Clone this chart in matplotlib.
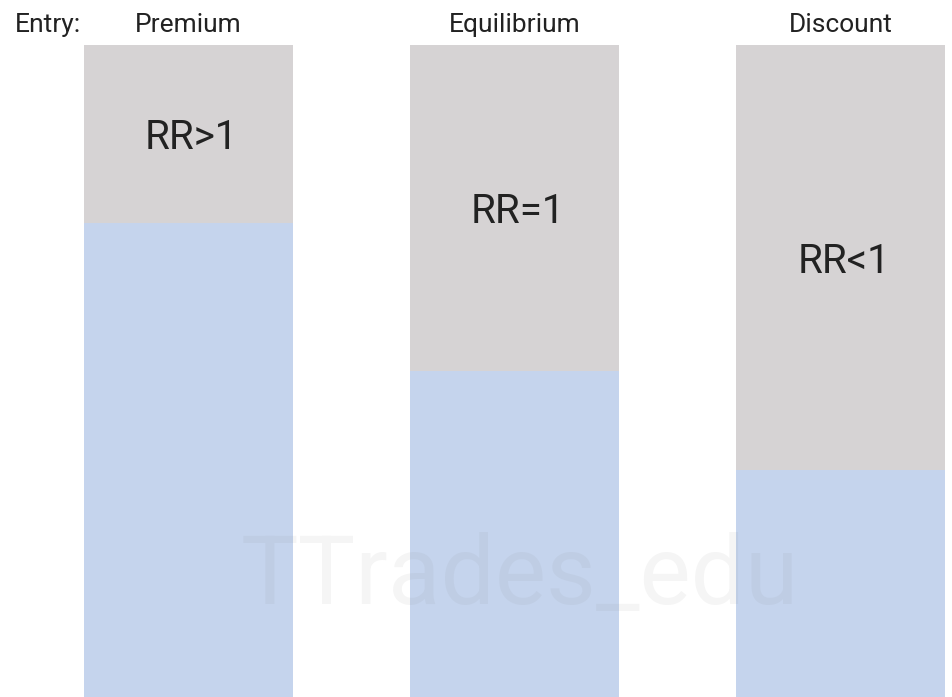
import matplotlib
matplotlib.use("Agg")
import matplotlib.pyplot as plt
import matplotlib.transforms as mtransforms

plt.rcParams['font.family'] = ['Roboto', 'DejaVu Sans']

categories = ["Premium", "Equilibrium", "Discount"]
lower_values = [72.7, 50.0, 34.8]          # blue part (percent of bar)
totals = [100, 100, 100]
rr_labels = ["RR>1", "RR=1", "RR<1"]

gray = "#D6D3D4"
blue = "#C5D4ED"
txt = "#222222"

W, H = 953, 697
fig = plt.figure(figsize=(W / 100, H / 100), dpi=100)
ax = fig.add_axes([0, 0, 1, 1 - 45 / H])
ax.set_xlim(-188.5 / 326, (W - 188.5) / 326)
ax.set_ylim(0, 100)
ax.axis("off")

x = list(range(len(categories)))
upper = [t - l for t, l in zip(totals, lower_values)]
ax.bar(x, lower_values, width=0.641, color=blue, linewidth=0)
ax.bar(x, upper, bottom=lower_values, width=0.641, color=gray, linewidth=0)

hdr_tr = mtransforms.blended_transform_factory(ax.transData, fig.transFigure)
shift = mtransforms.ScaledTranslation(3 / 100, 0, fig.dpi_scale_trans)
for xi, cat, lo, t, lab in zip(x, categories, lower_values, totals, rr_labels):
    ax.text(xi, 1 - 32 / H, cat, transform=hdr_tr, ha="center",
            va="baseline", fontsize=19, color=txt, clip_on=False)
    ax.text(xi, (lo + t) / 2 - 2.3, lab, ha="center", va="baseline", fontsize=29,
            color=txt, transform=ax.transData + shift)

fig.text(15 / W, 1 - 32 / H, "Entry:", ha="left", va="baseline", fontsize=19, color=txt)

fig.text(520 / W, (H - 604) / H, "TTrades_edu", ha="center", va="baseline",
         fontsize=69.5, color="#808080", alpha=0.08)

fig.savefig("out.png", dpi=100)
